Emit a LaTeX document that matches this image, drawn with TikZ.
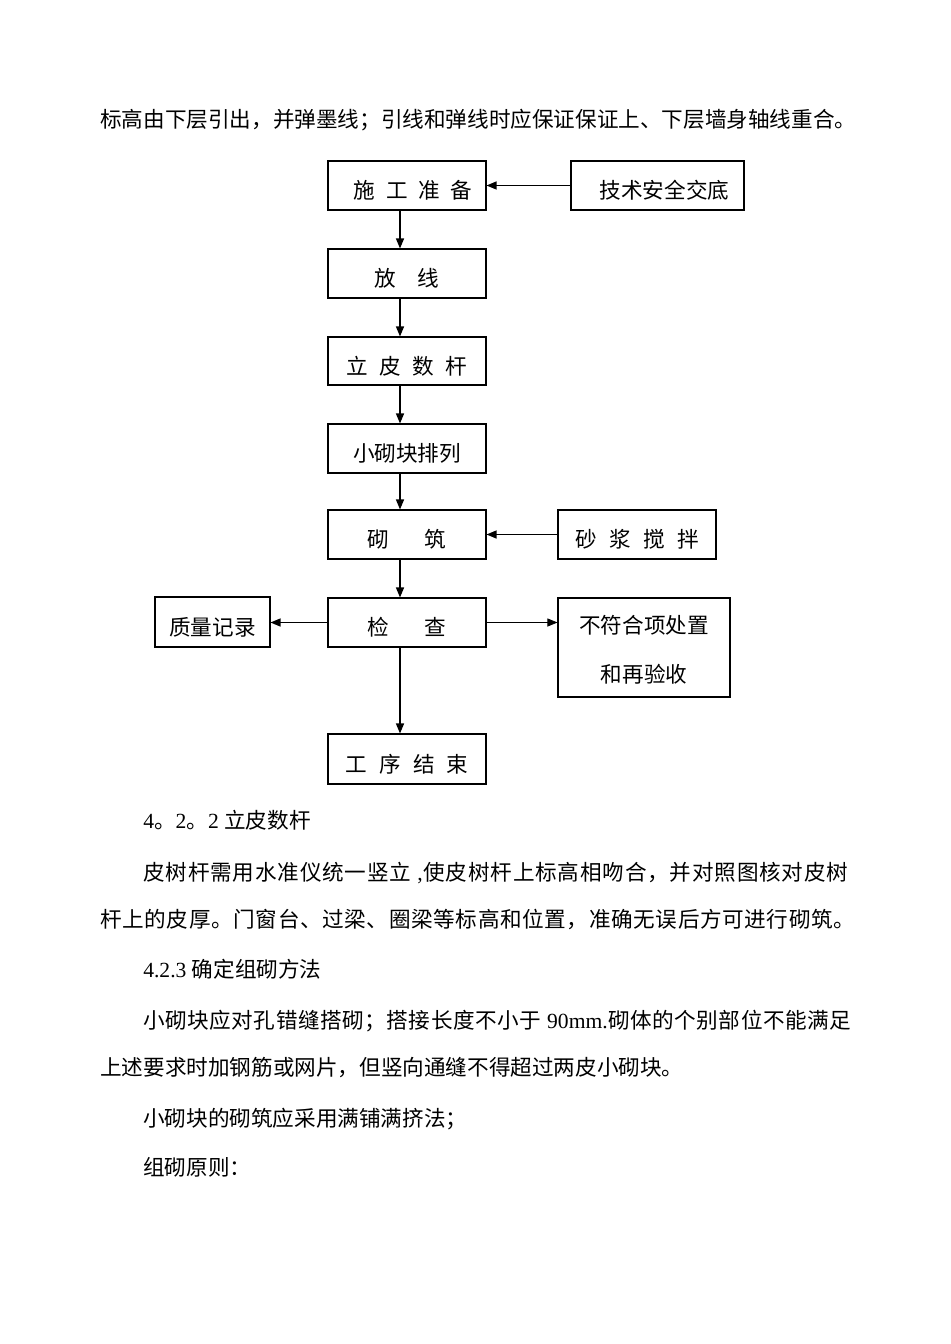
\documentclass[tikz,border=0pt]{standalone}
\usepackage{fontspec}
\setmainfont{Liberation Serif}
\newfontfamily\cjk{Noto Sans CJK SC}
\usetikzlibrary{arrows.meta}
\def\spreadend{SPREADEND}
\def\spreadfirst#1{#1\spreadrest}
\def\spreadrest#1{\ifx\spreadend#1\else\hfil#1\expandafter\spreadrest\fi}
\newcommand\spreadline[2]{\makebox[#1][s]{\spreadfirst#2\spreadend}}
\newcommand\lat[1]{{\rmfamily #1}}
\newcommand\cfont{\cjk\fontsize{16.2pt}{20pt}\selectfont}
\newcommand\lowered[1]{\raisebox{-9.9pt}[0pt][0pt]{#1}}
\begin{document}
\begin{tikzpicture}[x=0.75pt,y=-0.75pt,
  box/.style={draw, line width=0.8pt, inner sep=0pt, font=\cfont, minimum height=36.75pt, minimum width=118.5pt},
  arr/.style={-{Triangle[length=7.5pt,width=6pt]}, line width=1pt},
  thintop/.style={line width=1.4pt},
  body/.style={anchor=base west, inner sep=0pt, font=\cfont}]
\useasboundingbox (0,0) rectangle (950,1344);
\fill[white] (0,0) rectangle (950,1344);

% flow boxes
\node[box] (a) at (407,185.5) {\lowered{施\hspace{8pt}工\hspace{8pt}准\hspace{8pt}备\hspace{-9pt}}};
\node[box, minimum width=129.75pt] (b) at (657.5,185.5) {\lowered{技术安全交底\hspace{-10.5pt}}};
\node[box] (c) at (407,273.5) {\lowered{放\hspace{16.2pt}线}};
\node[box, minimum height=36pt] (d) at (407,361) {\lowered{立\hspace{8.5pt}皮\hspace{8.5pt}数\hspace{8.5pt}杆}};
\node[box] (e) at (407,448.5) {\lowered{小砌块排列}};
\node[box] (f) at (407,534.5) {\lowered{砌\hspace{26.6pt}筑}};
\node[box] (g) at (637,534.5) {\lowered{砂\hspace{9.4pt}浆\hspace{9.4pt}搅\hspace{9.4pt}拌}};
\node[box] (h) at (407,622.5) {\lowered{检\hspace{26.6pt}查}};
\node[box, minimum width=86.25pt, minimum height=37.5pt] (i) at (212.5,622) {\lowered{质量记录}};
\node[box, minimum width=129pt, minimum height=74.25pt] (j) at (644,647.5)
  {\raisebox{10.7pt}[0pt][0pt]{\begin{tabular}[t]{@{}c@{}}不符合项处置\\[16.75pt]和再验收\end{tabular}}};
\node[box, minimum height=37.5pt] (k) at (407,759) {\lowered{工\hspace{9pt}序\hspace{9pt}结\hspace{9pt}束}};

\draw[thintop] (h.north west) -- (h.north east);
\draw[thintop] (i.north west) -- (i.north east);
\draw[thintop] (j.north west) -- (j.north east);

% connectors
\coordinate (ax) at (400,0);
\draw[arr] (a.south -| ax) -- (c.north -| ax);
\draw[arr] (c.south -| ax) -- (d.north -| ax);
\draw[arr] (d.south -| ax) -- (e.north -| ax);
\draw[arr] (e.south -| ax) -- (f.north -| ax);
\draw[arr] (f.south -| ax) -- (h.north -| ax);
\draw[arr] (h.south -| ax) -- (k.north -| ax);
\draw[arr] (b.west) -- (a.east);
\draw[arr] (g.west) -- (f.east);
\draw[arr] (h.west) -- (h.west -| i.east);
\draw[arr, line width=0.6pt] (h.east) -- (h.east -| j.west);

% body text
\node[body] (t1) at (100,128) {\spreadline{567pt}{标高由下层引出，并弹墨线；引线和弹线时应保证保证上、下层墙身轴线重合。}};
\node[body] (t2) at (143,828) {\lat{4}。\lat{2}。\lat{2 }立皮数杆};
\node[body] (t3) at (143,880) {\spreadline{528.75pt}{皮树杆需用水准仪统一竖立{\lat{ ,}}使皮树杆上标高相吻合，并对照图核对皮树}};
\node[body] (t4) at (100,927) {\spreadline{566.25pt}{杆上的皮厚。门窗台、过梁、圈梁等标高和位置，准确无误后方可进行砌筑。}};
\node[body] (t5) at (143,977) {\lat{4.2.3 }确定组砌方法};
\node[body] (t6) at (143,1028) {\spreadline{531pt}{小砌块应对孔错缝搭砌；搭接长度不小于{\lat{ 90mm.}}砌体的个别部位不能满足}};
\node[body] (t7) at (100,1075) {上述要求时加钢筋或网片，但竖向通缝不得超过两皮小砌块。};
\node[body] (t8) at (143,1126) {小砌块的砌筑应采用满铺满挤法；};
\node[body] (t9) at (143,1175) {组砌原则：};
\end{tikzpicture}
\end{document}
